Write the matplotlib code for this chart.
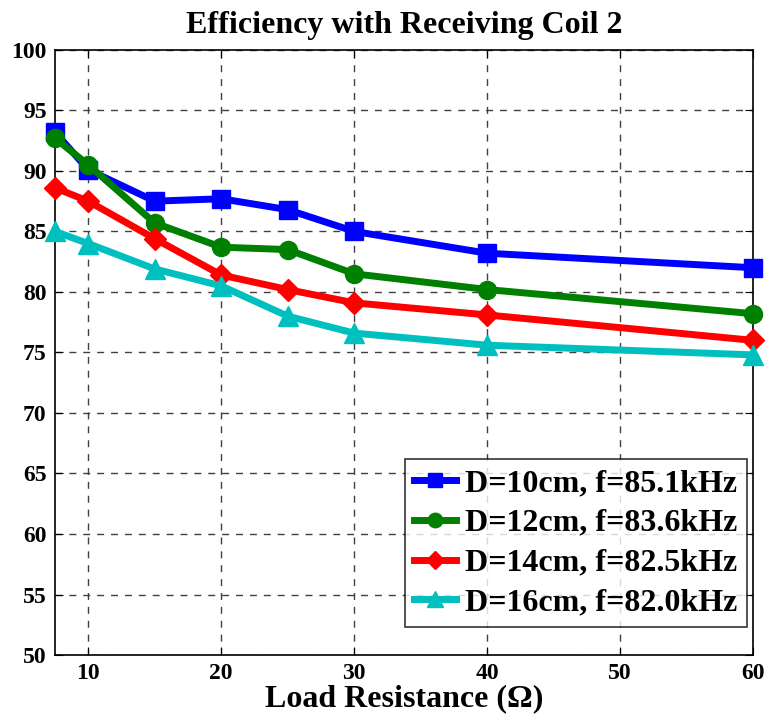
""" Efficiency vs load resistance, receiving coil 2 """

import matplotlib
matplotlib.use("Agg")
import matplotlib.pyplot as plt

# load resistance (ohm)
res = [7.5, 10, 15, 20, 25, 30, 40, 60]

# efficiency (%) for each coil distance
eff_10 = [93.2, 90.1, 87.5, 87.7, 86.8, 85.0, 83.2, 82.0]
eff_12 = [92.7, 90.5, 85.7, 83.7, 83.5, 81.5, 80.2, 78.2]
eff_14 = [88.6, 87.5, 84.4, 81.4, 80.2, 79.1, 78.1, 76.0]
eff_16 = [85.0, 84.0, 81.9, 80.5, 78.0, 76.6, 75.6, 74.8]

labels = ["D=10cm, f=85.1kHz", "D=12cm, f=83.6kHz",
          "D=14cm, f=82.5kHz", "D=16cm, f=82.0kHz"]

plt.rcParams['font.family'] = ['Liberation Serif', 'DejaVu Serif']
plt.rcParams['font.weight'] = 'bold'

fig = plt.figure(figsize=(7.68, 7.23), dpi=100)
ax = fig.add_axes([0.0716, 0.094, 0.909, 0.837])

styles = [("#0000ff", "s", 13), ("#008000", "o", 13),
          ("#ff0000", "D", 11), ("#00bfbf", "^", 14)]
for y, lab, (c, m, ms) in zip([eff_10, eff_12, eff_14, eff_16], labels, styles):
	ax.plot(res, y, color=c, marker=m, markersize=ms, linewidth=5, label=lab, clip_on=False, zorder=3)

ax.set_xlim(7.5, 60)
ax.set_ylim(50, 100)
ax.set_xticks([10, 20, 30, 40, 50, 60])
ax.set_yticks(range(50, 101, 5))
ax.grid(True, linestyle=(0, (5, 5)), color='#404040', linewidth=1)
ax.tick_params(direction='in', top=True, right=True, labelsize=17, length=6, pad=6)
for s in ax.spines.values():
	s.set_linewidth(1.2)

ax.set_title("Efficiency with Receiving Coil 2", fontsize=23, fontweight='bold', pad=12)
ax.set_xlabel("Load Resistance (\u03a9)", fontsize=23, fontweight='bold', labelpad=0)

leg = ax.legend(loc='lower right', bbox_to_anchor=(0.9914, 0.046), fontsize=23,
                frameon=True, fancybox=False, edgecolor='black',
                handlelength=1.3, handletextpad=0.3, borderpad=0.3,
                labelspacing=0.33, borderaxespad=0, markerscale=0.8)
leg.get_frame().set_linewidth(1.2)
for t in leg.get_texts():
	t.set_fontweight('bold')

plt.savefig("out.png", dpi=100)
